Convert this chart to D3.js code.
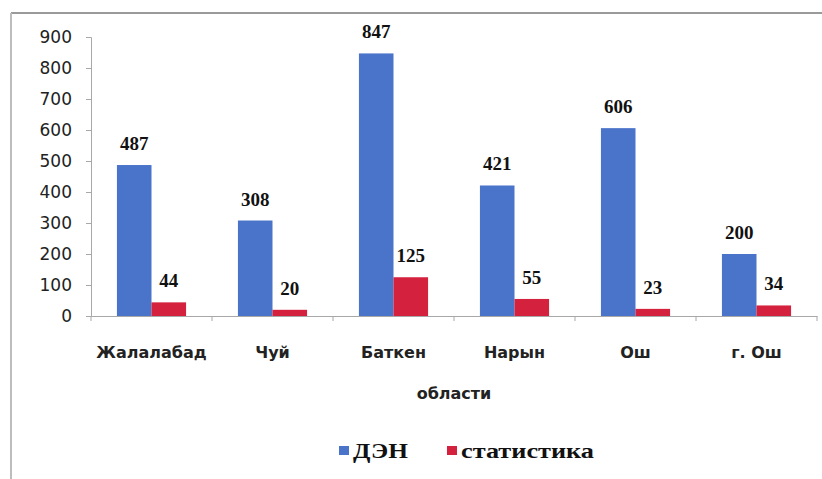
<!DOCTYPE html>
<html>
<head>
<meta charset="utf-8">
<script src="https://cdn.jsdelivr.net/npm/d3@7/dist/d3.min.js"></script>
<style>
  html, body { margin: 0; padding: 0; background: #fff; }
  svg { display: block; }
</style>
</head>
<body>
<div id="chart"></div>
<script>
// Regions of Kyrgyzstan and two counts per region
const categories = ["Жалалабад", "Чуй", "Баткен", "Нарын", "Ош", "г. Ош"];
const seriesNames = ["ДЭН", "статистика"];
const denValues = [487, 308, 847, 421, 606, 200];
const statValues = [44, 20, 125, 55, 23, 34];
const yTicks = [0, 100, 200, 300, 400, 500, 600, 700, 800, 900];
const axisTitle = "области";
const colors = ["#4a74c9", "#d4213d"];

const W = 822, H = 479;
const svg = d3.select("#chart").append("svg")
  .attr("width", W).attr("height", H);

// frame: only the top and left edges are visible
svg.append("line").attr("x1", 11).attr("x2", W).attr("y1", 13).attr("y2", 13)
  .attr("stroke", "#9a9a9a").attr("stroke-width", 2);
svg.append("line").attr("x1", 11).attr("x2", 11).attr("y1", 13).attr("y2", H)
  .attr("stroke", "#bdbdbd").attr("stroke-width", 2);

const plot = { left: 91, right: 817, top: 37, bottom: 316 };

const x0 = d3.scaleBand().domain(categories).range([plot.left, plot.right]);
const x1 = d3.scaleBand().domain(seriesNames).range([0, x0.bandwidth()])
  .paddingInner(0).paddingOuter(0.75);
const y = d3.scaleLinear().domain([0, 900]).range([plot.bottom, plot.top]);

const rows = categories.map((c, i) => ({
  cat: c,
  vals: [
    { s: seriesNames[0], v: denValues[i], c: colors[0] },
    { s: seriesNames[1], v: statValues[i], c: colors[1] }
  ]
}));

const sans = "'DejaVu Sans', sans-serif";
const serif = "'Liberation Serif', 'Times New Roman', serif";

// y axis
const yAxis = svg.append("g")
  .attr("transform", `translate(${plot.left},0)`)
  .call(d3.axisLeft(y).tickValues(yTicks).tickSize(5).tickPadding(14));
yAxis.select(".domain").attr("stroke", "#a8a8a8");
yAxis.selectAll(".tick line").attr("stroke", "#a8a8a8");
yAxis.selectAll(".tick text")
  .attr("font-family", sans)
  .attr("font-size", 17).attr("fill", "#222");

// bars
const groups = svg.append("g").selectAll("g").data(rows).join("g")
  .attr("transform", d => `translate(${x0(d.cat)},0)`);
groups.selectAll("rect").data(d => d.vals).join("rect")
  .attr("x", d => x1(d.s))
  .attr("width", x1.bandwidth())
  .attr("y", d => y(d.v))
  .attr("height", d => y(0) - y(d.v))
  .attr("fill", d => d.c);

// value labels
groups.selectAll("text").data(d => d.vals).join("text")
  .attr("x", d => x1(d.s) + x1.bandwidth() / 2)
  .attr("y", d => y(d.v) - 15)
  .attr("text-anchor", "middle")
  .attr("font-family", serif)
  .attr("font-weight", "bold").attr("font-size", 19).attr("fill", "#111")
  .text(d => d.v);

// x axis
const xAxis = svg.append("g")
  .attr("transform", `translate(0,${plot.bottom})`)
  .call(d3.axisBottom(x0).tickSize(0).tickPadding(31));
xAxis.select(".domain").attr("stroke", "#a8a8a8");
xAxis.selectAll(".tick text")
  .attr("font-family", sans)
  .attr("font-weight", "bold").attr("font-size", 16).attr("fill", "#222");
// category separators
svg.append("g").selectAll("line")
  .data(categories.concat([null]))
  .join("line")
  .attr("x1", (d, i) => plot.left + i * x0.step())
  .attr("x2", (d, i) => plot.left + i * x0.step())
  .attr("y1", plot.bottom).attr("y2", plot.bottom + 5)
  .attr("stroke", "#a8a8a8");

// axis title
svg.append("text")
  .attr("x", (plot.left + plot.right) / 2).attr("y", 399)
  .attr("text-anchor", "middle")
  .attr("font-family", sans)
  .attr("font-weight", "bold").attr("font-size", 16).attr("fill", "#222")
  .text(axisTitle);

// legend
const legendItems = [
  { name: seriesNames[0], color: colors[0], x: 339, len: 55 },
  { name: seriesNames[1], color: colors[1], x: 447, len: 133 }
];
const lg = svg.append("g").selectAll("g").data(legendItems).join("g")
  .attr("transform", d => `translate(${d.x},0)`);
lg.append("rect").attr("x", 0).attr("y", 446).attr("width", 10).attr("height", 9)
  .attr("fill", d => d.color);
lg.append("text").attr("x", 14).attr("y", 458)
  .attr("font-family", serif)
  .attr("font-weight", "bold").attr("font-size", 21).attr("fill", "#111")
  .attr("textLength", d => d.len).attr("lengthAdjust", "spacingAndGlyphs")
  .text(d => d.name);
</script>
</body>
</html>
